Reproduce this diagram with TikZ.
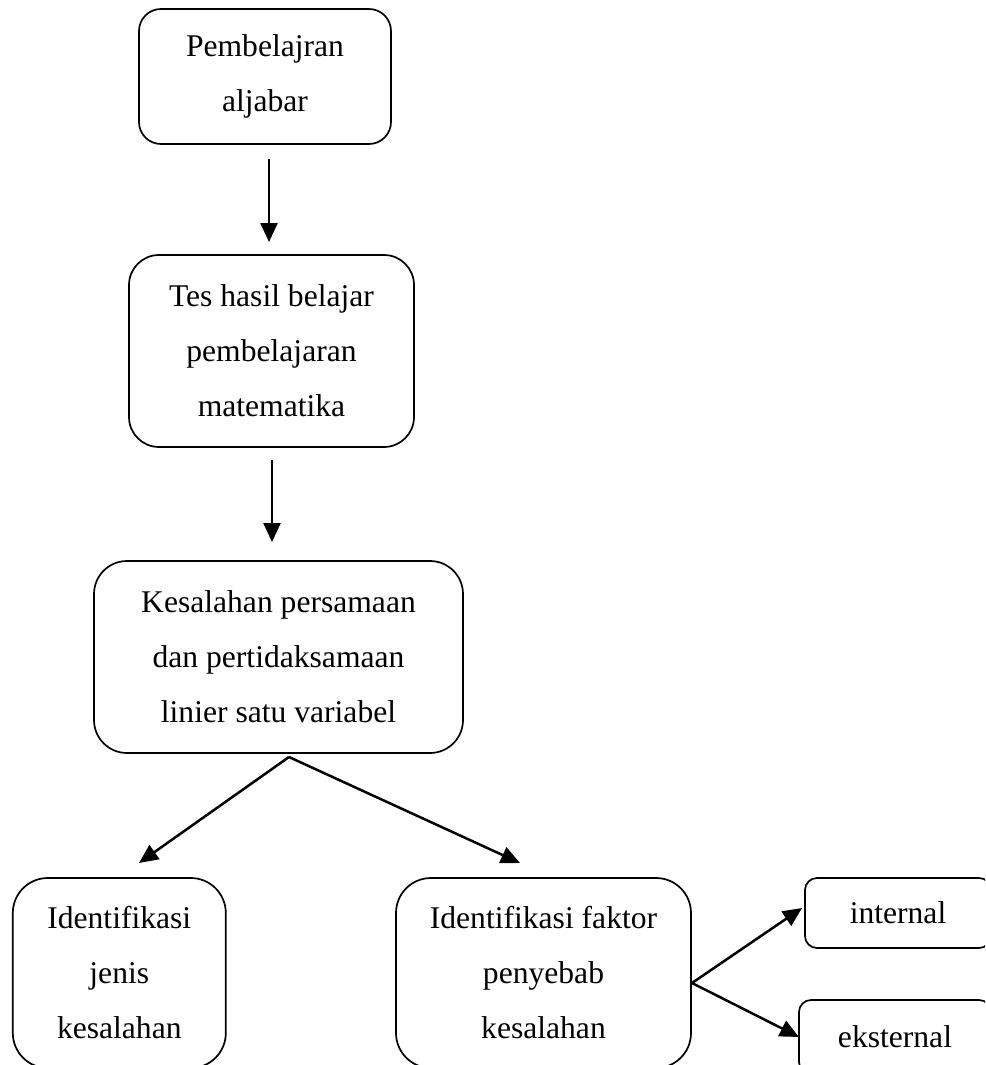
\documentclass[tikz,border=0pt]{standalone}
\usepackage{fontspec}
\setmainfont{Liberation Serif}
\usetikzlibrary{arrows.meta}
\begin{document}
\begin{tikzpicture}[x=1pt,y=-1pt,
  box/.style={draw, line width=1.7pt, rounded corners=#1, inner sep=0pt, align=center,
    font=\fontsize{31.6}{55}\selectfont},
  box/.default=25pt,
  arr/.style={-{Triangle[length=19pt,width=17pt]}, line width=2.5pt}]
\useasboundingbox (0,0) rectangle (985,1065);
\clip (0,0) rectangle (985,1065);
\node[box=22pt, minimum width=252pt, minimum height=135pt] (b1) at (265,76.5) {Pembelajran\\aljabar};
\node[box=30pt, minimum width=285pt, minimum height=192pt] (b2) at (271.5,351) {Tes hasil belajar\\pembelajaran\\matematika};
\node[box=33pt, minimum width=369pt, minimum height=192pt] (b3) at (278.5,657) {Kesalahan persamaan\\dan pertidaksamaan\\linier satu variabel};
\node[box=35pt, minimum width=213pt, minimum height=190pt] (b4) at (119.3,973) {Identifikasi\\jenis\\kesalahan};
\node[box=35pt, minimum width=295pt, minimum height=190pt] (b5) at (543.5,973) {Identifikasi faktor\\penyebab\\kesalahan};
\node[box=12pt, minimum width=186pt, minimum height=70pt] (b6) at (898,913) {internal};
\node[box=12pt, minimum width=192pt, minimum height=74pt] (b7) at (895,1037) {eksternal};
\coordinate (a1s) at (269,159);
\coordinate (a1e) at (269,242);
\coordinate (a2s) at (272,460);
\coordinate (a2e) at (272,542);
\coordinate (a3s) at (289,757);
\coordinate (a3l) at (139,863);
\coordinate (a3r) at (520,863);
\coordinate (a4s) at (692,983);
\coordinate (a4u) at (802,908);
\coordinate (a4d) at (799,1037);
\draw[arr] (a1s) -- (a1e);
\draw[arr] (a2s) -- (a2e);
\draw[arr] (a3s) -- (a3l);
\draw[arr] (a3s) -- (a3r);
\draw[arr] (a4s) -- (a4u);
\draw[arr] (a4s) -- (a4d);
\end{tikzpicture}
\end{document}
